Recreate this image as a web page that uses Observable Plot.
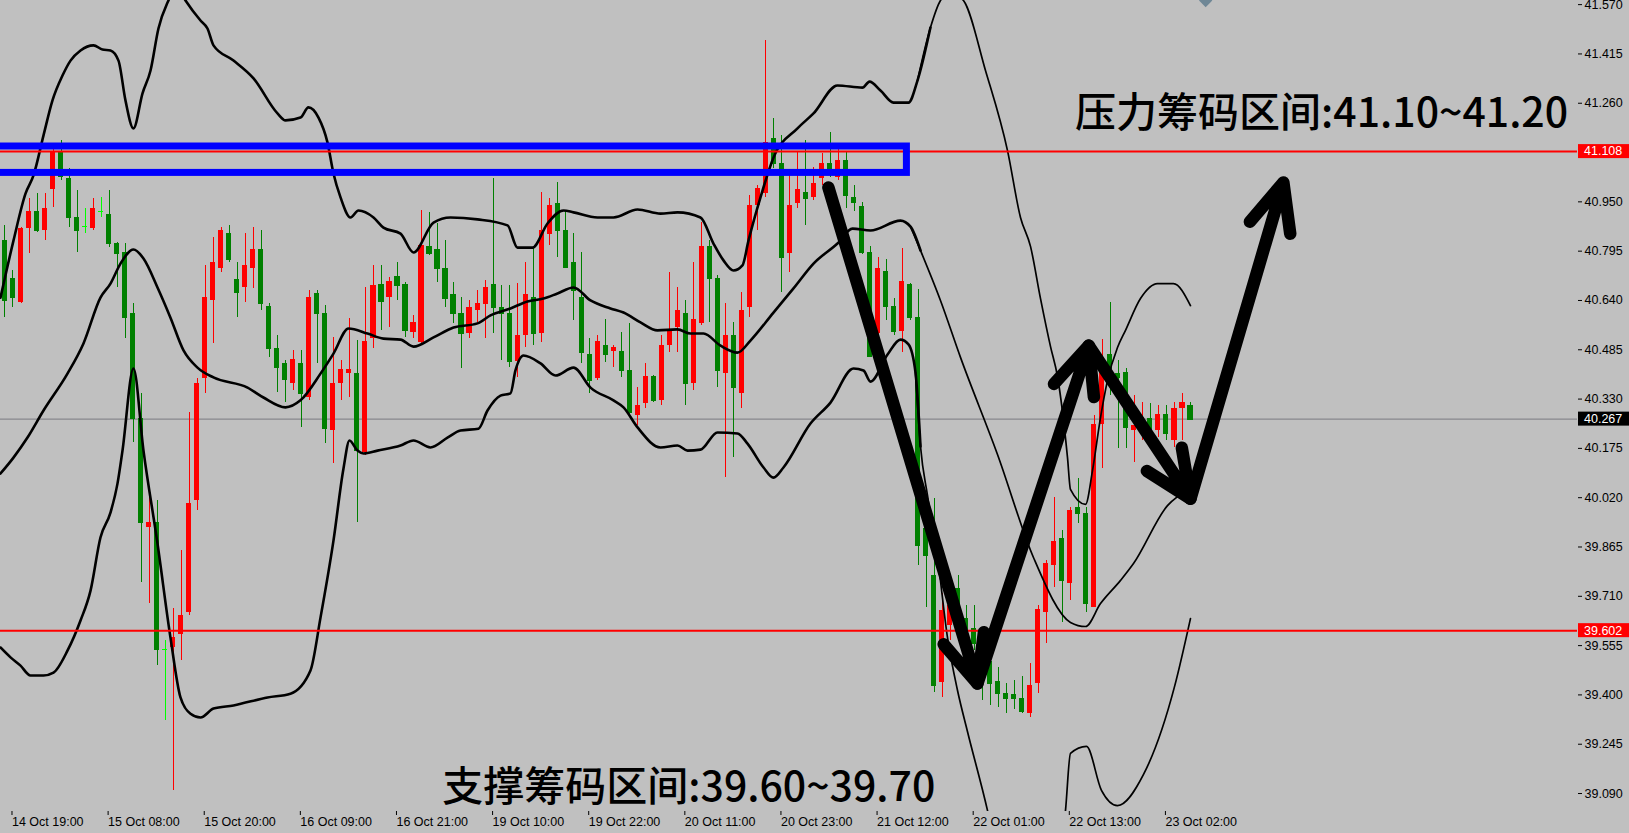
<!DOCTYPE html>
<html><head><meta charset="utf-8">
<script src="https://cdn.jsdelivr.net/npm/d3@7"></script>
<script src="https://cdn.jsdelivr.net/npm/@observablehq/plot@0.6"></script>
<style>
html,body{margin:0;padding:0;background:#c0c0c0;}
#chart{width:1629px;height:833px;overflow:hidden;}
</style></head><body><div id="chart"></div>
<script>
// ---- candle data (hourly bars, index -1 .. 147) ----
const firstBar = -1;
const opens = [40.828,40.709,40.634,40.866,40.920,40.860,40.989,41.105,41.023,40.901,40.873,40.866,40.920,40.910,40.819,40.791,40.599,40.269,39.926,39.942,39.542,39.549,39.590,39.659,40.011,40.395,40.640,40.740,40.851,40.706,40.681,40.740,40.800,40.621,40.489,40.442,40.379,40.442,40.335,40.662,40.599,40.231,40.379,40.410,40.410,40.162,40.520,40.690,40.649,40.715,40.690,40.539,40.508,40.810,40.800,40.740,40.659,40.599,40.536,40.608,40.627,40.690,40.618,40.599,40.448,40.530,40.649,40.536,40.847,40.945,40.860,40.759,40.649,40.470,40.395,40.498,40.480,40.480,40.420,40.278,40.316,40.401,40.326,40.498,40.555,40.599,40.379,40.568,40.810,40.709,40.410,40.530,40.348,40.618,40.939,40.976,41.149,41.071,40.788,40.945,40.979,40.964,41.023,41.071,41.027,41.080,40.964,40.935,40.791,40.536,40.731,40.621,40.542,40.690,40.586,39.923,39.775,39.439,39.618,39.734,39.640,39.609,39.524,39.505,39.442,39.404,39.401,39.389,39.341,39.436,39.659,39.807,39.892,39.750,39.989,39.970,39.675,40.250,40.470,40.410,40.414,40.231,40.241,40.269,40.231,40.282,40.200,40.300,40.310];
const highs = [40.876,40.734,40.869,40.960,40.976,40.976,41.133,41.143,41.055,40.986,40.929,40.960,40.964,40.986,40.822,40.819,40.630,40.348,40.021,40.011,39.571,39.672,39.854,40.288,40.395,40.750,40.838,40.869,40.876,40.759,40.851,40.869,40.860,40.630,40.530,40.451,40.483,40.483,40.671,40.671,40.624,40.524,40.451,40.583,40.514,40.681,40.750,40.750,40.712,40.759,40.696,40.593,40.923,40.917,40.882,40.828,40.696,40.649,40.640,40.671,40.703,41.023,40.687,40.687,40.693,40.759,40.806,40.979,40.960,41.011,40.923,40.851,40.791,40.520,40.530,40.580,40.498,40.539,40.568,40.366,40.442,40.404,40.530,40.728,40.681,40.640,40.759,40.885,40.828,40.718,40.630,40.571,40.665,40.970,41.001,41.457,41.212,41.159,41.039,41.105,41.143,41.058,41.102,41.168,41.118,41.105,41.001,40.948,40.810,40.775,40.769,40.646,40.803,40.693,40.674,40.021,40.017,39.719,39.716,39.775,39.681,39.681,39.571,39.514,39.486,39.436,39.445,39.458,39.499,39.681,39.823,40.021,39.917,39.989,40.080,39.989,40.278,40.517,40.634,40.451,40.426,40.341,40.319,40.316,40.310,40.310,40.319,40.348,40.319];
const lows = [40.586,40.618,40.630,40.788,40.854,40.828,40.932,41.017,40.869,40.791,40.851,40.860,40.901,40.806,40.681,40.520,40.194,39.753,39.687,39.492,39.320,39.100,39.508,39.650,39.980,40.348,40.505,40.728,40.759,40.586,40.634,40.678,40.608,40.461,40.351,40.319,40.357,40.241,40.326,40.442,40.190,40.127,40.326,40.335,39.942,40.153,40.489,40.546,40.555,40.640,40.524,40.520,40.505,40.781,40.696,40.618,40.568,40.426,40.520,40.571,40.520,40.536,40.451,40.429,40.398,40.492,40.498,40.508,40.813,40.775,40.740,40.577,40.442,40.348,40.388,40.445,40.429,40.398,40.272,40.247,40.300,40.319,40.310,40.476,40.476,40.310,40.357,40.561,40.571,40.366,40.083,40.146,40.300,40.586,40.860,40.964,41.055,40.665,40.728,40.929,40.876,40.954,41.001,41.027,41.017,40.929,40.920,40.785,40.461,40.517,40.577,40.530,40.476,40.577,39.807,39.675,39.408,39.392,39.571,39.618,39.571,39.539,39.382,39.367,39.360,39.341,39.354,39.341,39.329,39.404,39.562,39.738,39.628,39.697,39.939,39.659,39.675,40.112,40.341,40.175,40.175,40.131,40.200,40.206,40.209,40.200,40.178,40.200,40.263];
const closes = [40.640,40.649,40.866,40.920,40.860,40.929,41.105,41.030,40.901,40.860,40.873,40.929,40.920,40.819,40.788,40.586,40.269,39.942,39.942,39.542,39.542,39.580,39.650,40.002,40.379,40.649,40.759,40.860,40.769,40.665,40.750,40.800,40.630,40.489,40.429,40.392,40.454,40.348,40.649,40.599,40.237,40.379,40.423,40.423,40.168,40.511,40.687,40.637,40.700,40.687,40.546,40.571,40.813,40.788,40.740,40.646,40.599,40.536,40.618,40.630,40.681,40.618,40.599,40.448,40.530,40.659,40.536,40.860,40.939,40.860,40.744,40.671,40.476,40.388,40.511,40.470,40.492,40.420,40.288,40.310,40.401,40.326,40.498,40.546,40.608,40.379,40.580,40.810,40.709,40.420,40.530,40.366,40.608,40.939,40.992,41.137,41.071,40.775,40.939,40.989,40.961,41.008,41.071,41.052,41.080,40.970,40.948,40.791,40.464,40.740,40.621,40.542,40.700,40.586,39.870,39.838,39.430,39.665,39.681,39.650,39.599,39.561,39.461,39.436,39.404,39.389,39.389,39.348,39.430,39.668,39.813,39.882,39.760,39.980,39.970,39.687,40.250,40.461,40.426,40.398,40.241,40.247,40.272,40.231,40.282,40.222,40.300,40.319,40.267];

// ---- Bollinger bands (bar position, price) ----
const upperBar = [-1.56,0.06,1.56,2.56,3.81,4.93,6.18,7.18,8.43,10.05,11.17,12.17,13.17,14.04,15.04,16.17,17.17,18.16,19.41,20.41,21.54,23.41,24.28,25.03,27.53,30.03,33.02,34.02,35.89,36.89,38.14,39.26,40.01,40.89,42.13,43.13,45.01,46.25,48.38,50.00,52.50,54.62,57.99,61.74,62.98,64.86,66.73,68.73,69.98,72.97,74.97,77.97,80.84,82.96,85.83,87.45,88.70,89.95,91.07,91.82,93.32,94.94,97.94,99.94,102.93,106.05,106.93,108.30,109.93,111.80,112.92,114.54,115.79,117.04,118.66,121.41,124.16,125.78,127.03,128.28,129.53,130.40,131.65,132.02,133.90,134.77,135.77,136.64,137.89,138.89,140.76,142.88,144.88,147.00];
const upperVal = [40.649,40.828,40.976,41.033,41.159,41.269,41.347,41.394,41.426,41.442,41.429,41.426,41.394,41.269,41.181,41.291,41.363,41.495,41.583,41.630,41.583,41.520,41.495,41.442,41.394,41.338,41.228,41.206,41.215,41.247,41.215,41.137,41.039,40.964,40.901,40.923,40.901,40.869,40.850,40.791,40.885,40.901,40.895,40.876,40.806,40.806,40.882,40.923,40.917,40.901,40.901,40.926,40.913,40.917,40.901,40.819,40.766,40.734,40.750,40.828,40.964,41.089,41.181,41.228,41.316,41.309,41.328,41.300,41.262,41.262,41.331,41.498,41.583,41.608,41.583,41.363,41.111,40.901,40.810,40.646,40.495,40.401,40.146,40.046,39.999,40.105,40.272,40.388,40.492,40.546,40.646,40.693,40.693,40.624];
const middleBar = [-1.56,0.06,1.81,3.81,6.80,8.80,10.92,12.17,13.42,15.04,16.29,18.04,19.66,21.29,23.03,25.03,29.28,31.27,34.02,35.89,38.39,40.01,41.89,44.26,46.25,48.38,50.00,52.50,55.00,57.99,59.61,62.11,64.23,66.23,67.98,69.98,72.10,74.59,76.22,78.34,80.46,82.96,84.58,86.21,88.33,90.45,92.07,94.94,97.44,99.94,102.93,104.81,107.05,110.80,112.05,113.30,115.79,118.29,122.91,127.40,132.02,133.90,135.77,138.27,139.89,144.13,147.00];
const middleVal = [40.096,40.146,40.209,40.294,40.410,40.505,40.649,40.693,40.756,40.800,40.772,40.681,40.586,40.483,40.429,40.398,40.366,40.335,40.304,40.326,40.410,40.473,40.552,40.536,40.520,40.517,40.495,40.524,40.555,40.568,40.593,40.615,40.637,40.646,40.662,40.681,40.640,40.615,40.602,40.571,40.546,40.549,40.536,40.536,40.498,40.476,40.514,40.602,40.678,40.756,40.819,40.866,40.860,40.891,40.872,40.797,40.640,40.461,40.156,39.832,39.628,39.615,39.687,39.760,39.813,39.995,40.049];
const lowerBar = [-1.56,-0.31,0.94,2.18,3.81,5.06,6.80,8.43,9.68,10.92,12.17,13.05,13.67,15.04,16.29,18.04,19.66,20.91,22.16,23.41,25.03,27.53,31.77,34.64,37.14,38.39,40.01,41.26,42.01,43.01,43.76,45.51,48.38,50.00,52.12,54.24,55.87,58.11,59.24,60.86,62.11,62.73,63.73,65.86,67.73,69.98,72.10,74.97,76.22,77.97,80.84,82.96,84.21,85.83,87.95,90.45,91.70,93.70,94.94,96.19,99.56,102.06,104.93,106.18,107.05,109.18,110.80,111.80,112.67,113.30,114.17,115.42,116.67,117.92,119.16,121.66,123.28,126.40,129.53,131.40,132.02,134.02,135.89,137.89,141.14,145.01,147.00];
const lowerVal = [39.549,39.518,39.492,39.461,39.461,39.470,39.539,39.634,39.728,39.895,39.973,40.065,40.168,40.426,40.168,39.876,39.580,39.392,39.341,39.329,39.357,39.367,39.392,39.404,39.477,39.643,39.885,40.112,40.200,40.168,40.159,40.168,40.184,40.200,40.178,40.209,40.231,40.237,40.294,40.341,40.348,40.420,40.467,40.442,40.404,40.429,40.366,40.326,40.304,40.241,40.178,40.184,40.168,40.171,40.225,40.222,40.190,40.115,40.083,40.115,40.253,40.319,40.426,40.420,40.385,40.470,40.517,40.502,40.414,40.181,40.027,39.832,39.580,39.414,39.285,39.037,38.848,38.691,38.785,39.037,39.216,39.238,39.100,39.052,39.150,39.426,39.640];

// ---- axis ticks ----
const tickBars = [0,12,24,36,48,60,72,84,96,108,120,132,144];
const tickLabels = ["14 Oct 19:00","15 Oct 08:00","15 Oct 20:00","16 Oct 09:00","16 Oct 21:00","19 Oct 10:00","19 Oct 22:00","20 Oct 11:00","20 Oct 23:00","21 Oct 12:00","22 Oct 01:00","22 Oct 13:00","23 Oct 02:00"];
const priceTicks = [41.570,41.415,41.260,40.950,40.795,40.640,40.485,40.330,40.175,40.020,39.865,39.710,39.555,39.400,39.245,39.090];

// ---- levels & annotations ----
const levelPrices = [41.108, 39.602];
const currentPrice = 40.267;
const zoneBars = [-3, 111.6];
const zonePrices = [41.041, 41.124];
const pathBar = [101.8, 120.4, 134.3, 147.0, 158.6];
const pathPrice = [40.995, 39.436, 40.498, 40.017, 41.011];
const noteText = ["压力筹码区间:41.10~41.20", "支撑筹码区间:39.60~39.70"];
const noteBar = [132.6, 53.6];
const notePrice = [41.228, 39.109];
const markerBar = [148.9];
const markerPrice = [41.583];

// ---- build ----
const bars = d3.range(firstBar, firstBar + opens.length);
const idx = d3.range(opens.length);
const candleColor = idx.map(k => closes[k] > opens[k] ? "#ff0000" : closes[k] < opens[k] ? "#008000" : "#00ff00");
const halfBody = 0.32;
const split = 113;

function bandMarks(bx, bv) {
  const all = d3.range(bx.length);
  const thick = all.filter(k => bx[k] <= split || (k > 0 && bx[k-1] <= split));
  const thin = all.filter(k => bx[k] >= split || (k + 1 < bx.length && bx[k+1] >= split));
  return [
    Plot.line(thick, {x: k => bx[k], y: k => bv[k], stroke: "black", strokeWidth: 2.6, curve: "monotone-x", clip: true}),
    Plot.line(thin, {x: k => bx[k], y: k => bv[k], stroke: "black", strokeWidth: 1.7, curve: "monotone-x", clip: true})
  ];
}

const labelOf = new Map(tickBars.map((b, k) => [b, tickLabels[k]]));

const plot = Plot.plot({
  width: 1629, height: 833,
  marginLeft: 0, marginRight: 52, marginTop: 0, marginBottom: 22,
  style: {background: "#c0c0c0", fontFamily: "'Liberation Sans', Arial, sans-serif", color: "black", overflow: "visible"},
  x: {domain: [-1.56, 195.32], axis: null},
  y: {domain: [39.0335, 41.583], axis: null},
  marks: [
    Plot.ruleY([currentPrice], {stroke: "#7a7a80", strokeWidth: 1}),
    Plot.ruleX(idx, {x: k => bars[k], y1: k => lows[k], y2: k => highs[k], stroke: k => candleColor[k], strokeWidth: 1, shapeRendering: "crispEdges", clip: true}),
    Plot.rect(idx, {x1: k => bars[k] - halfBody, x2: k => bars[k] + halfBody, y1: k => opens[k], y2: k => closes[k], fill: k => candleColor[k], shapeRendering: "crispEdges", clip: true}),
    Plot.ruleY(idx, {x1: k => bars[k] - halfBody, x2: k => bars[k] + halfBody, y: k => closes[k], stroke: k => candleColor[k], shapeRendering: "crispEdges", clip: true}),
    ...bandMarks(upperBar, upperVal),
    ...bandMarks(middleBar, middleVal),
    ...bandMarks(lowerBar, lowerVal),
    Plot.ruleY(levelPrices, {stroke: "#ff0000", strokeWidth: 2}),
    Plot.rect([0], {x1: zoneBars[0], x2: zoneBars[1], y1: zonePrices[0], y2: zonePrices[1], fill: "none", stroke: "#0000ff", strokeWidth: 7, clip: true}),
    Plot.dot(markerBar, {x: d => d, y: (d, k) => markerPrice[k], symbol: "diamond2", r: 6, fill: "#6f8796", stroke: "none", clip: true}),
    Plot.arrow(d3.range(pathBar.length - 1), {
      x1: k => pathBar[k], y1: k => pathPrice[k], x2: k => pathBar[k+1], y2: k => pathPrice[k+1],
      stroke: "black", strokeWidth: 12.5, headLength: 6.2, headAngle: 48,
      strokeLinecap: "round", strokeLinejoin: "round"
    }),
    Plot.text(noteText, {x: (d, k) => noteBar[k], y: (d, k) => notePrice[k], text: d => d,
      textAnchor: "start", lineAnchor: "middle", fontSize: 41, fontWeight: 500,
      fontFamily: "'Noto Sans CJK SC', sans-serif", fill: "black"}),
    Plot.axisX(tickBars, {anchor: "bottom", tickFormat: d => labelOf.get(d), tickSize: 4, tickPadding: 2,
      textAnchor: "start", dx: -1, fontSize: 12.5, line: true, label: null}),
    Plot.axisY(priceTicks, {anchor: "right", tickFormat: d => d.toFixed(3), tickSize: 4, tickPadding: 3,
      fontSize: 12.5, line: true, label: null})
  ]
});

document.getElementById("chart").appendChild(plot);

// price tag boxes on the right axis, placed with the plot's own y scale
const yS = plot.scale("y");
const tagPrices = [...levelPrices, currentPrice];
const tagFills = ["#ff0000", "#ff0000", "#000000"];
const g = d3.select(plot).append("g").attr("text-anchor", "start");
tagPrices.forEach((v, k) => {
  const py = yS.apply(v);
  g.append("rect").attr("x", 1578).attr("y", py - 7).attr("width", 51).attr("height", 14).attr("fill", tagFills[k]);
  g.append("text").attr("x", 1584).attr("y", py).attr("dy", "0.35em").attr("text-anchor", "start")
    .attr("fill", "white").attr("font-size", 12.5).attr("font-family", "'Liberation Sans', Arial, sans-serif")
    .text(v.toFixed(3));
});
</script>
</body></html>
